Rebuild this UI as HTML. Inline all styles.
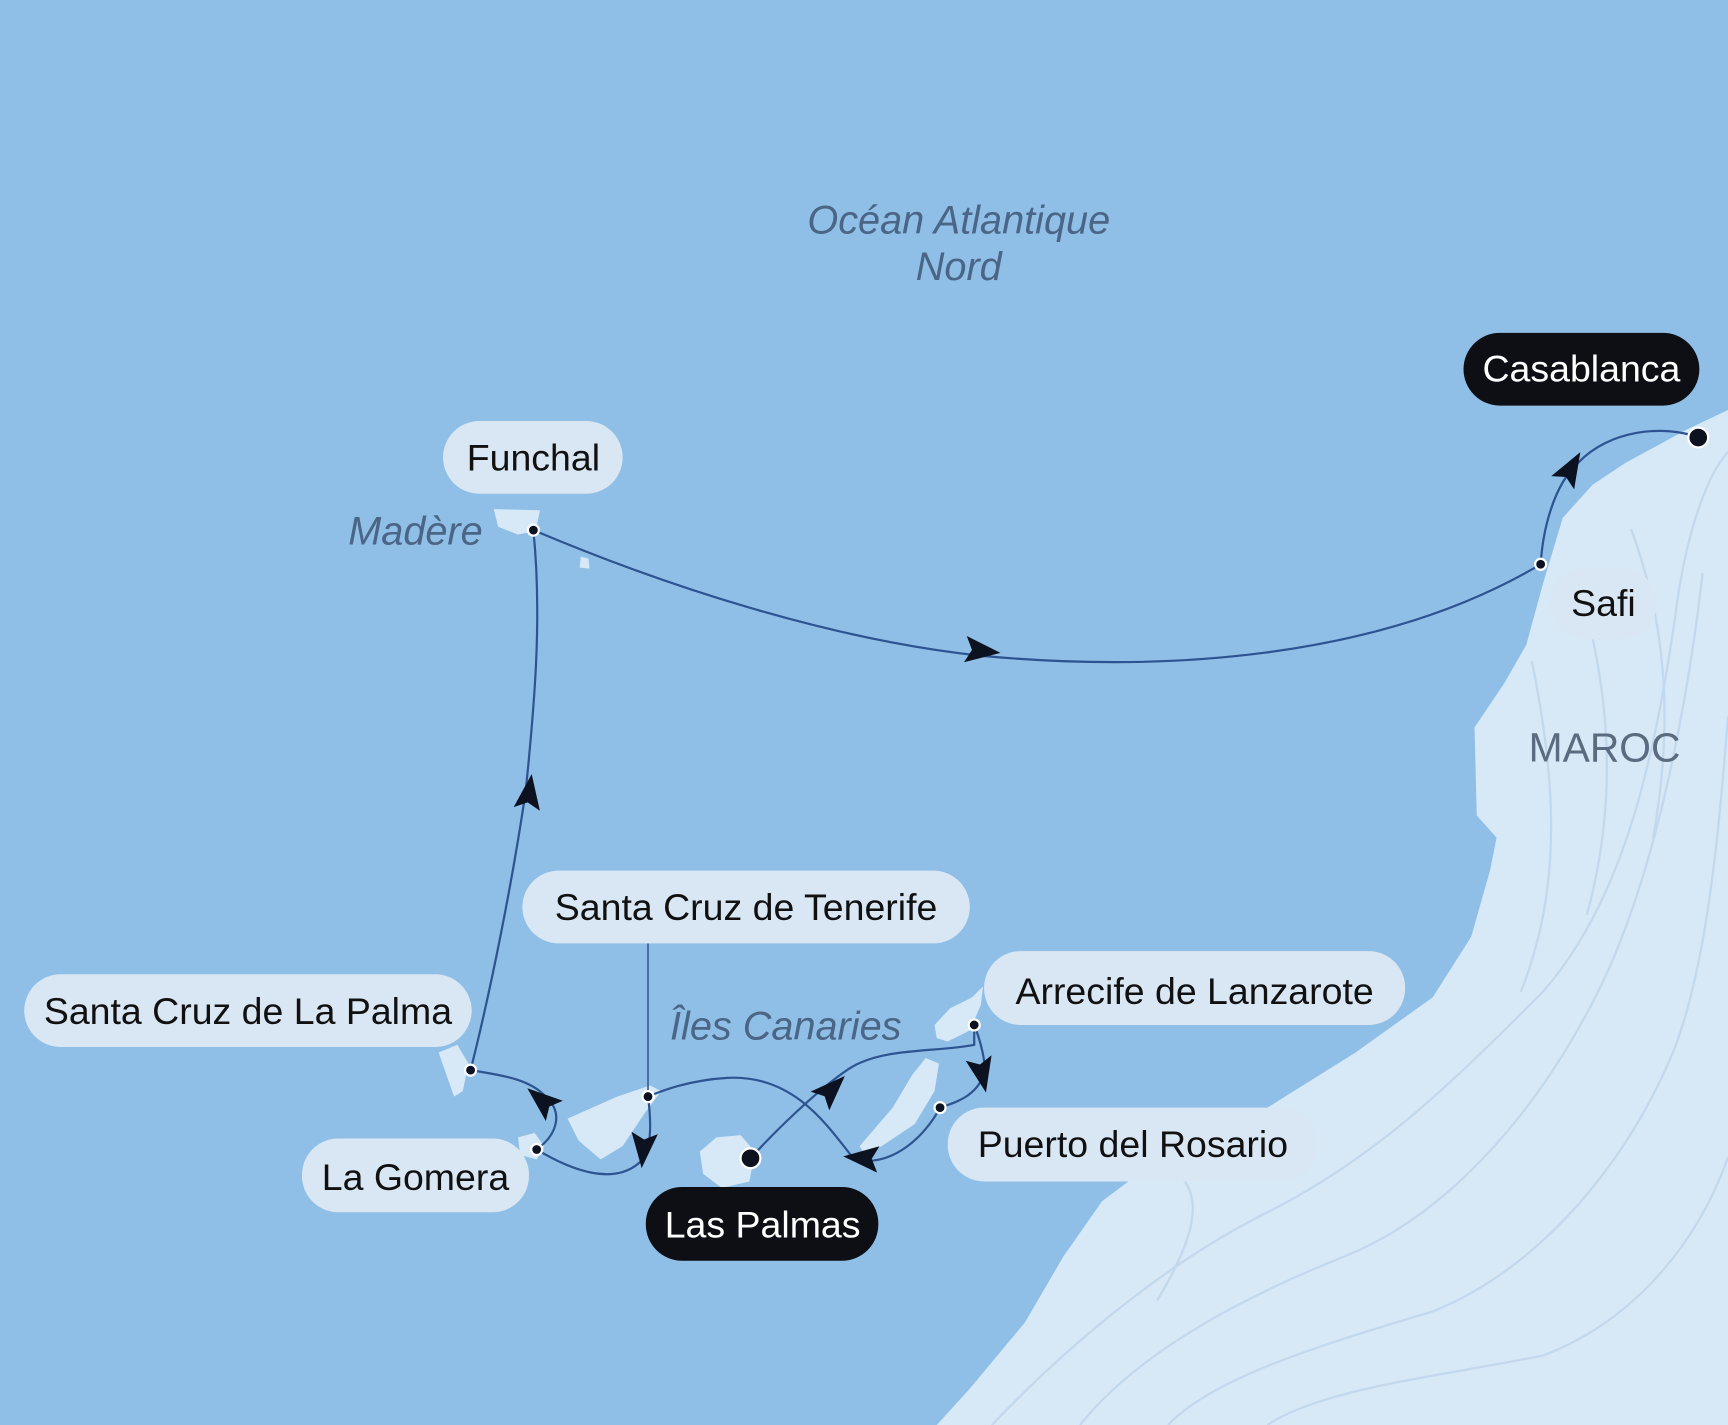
<!DOCTYPE html>
<html><head><meta charset="utf-8"><style>
html,body{margin:0;padding:0;background:#8fbfe6;}
svg{display:block}
.lbl{font-family:"Liberation Sans",sans-serif;font-size:34px;fill:#111}
.it{font-family:"Liberation Sans",sans-serif;font-style:italic;font-size:36px;fill:#4a6585}
</style></head><body>
<svg width="1728" height="1425" viewBox="0 0 1568 1293" preserveAspectRatio="none" xmlns="http://www.w3.org/2000/svg">
<rect width="1568" height="1293" fill="#8fbfe6"/>
<path d="M850,1293 L880,1260 L930,1200 L965,1140 L1000,1090 L1060,1045 L1150,1005 L1230,955 L1300,905 L1335,850 L1352,790 L1358,760 L1340,740 L1338,660 L1365,620 L1385,585 L1400,530 L1418,470 L1445,440 L1475,420 L1530,390 L1568,372 L1568,1293 Z" fill="#d7e8f6"/>
<g fill="none" stroke="#c2d8ec" stroke-width="2">
<path d="M900,1293 C960,1230 1050,1150 1150,1100 C1250,1050 1320,980 1400,900 C1470,820 1500,700 1520,560 C1530,480 1550,430 1568,410"/>
<path d="M980,1293 C1030,1230 1120,1180 1220,1140 C1320,1100 1400,1000 1450,900 C1500,800 1530,650 1545,520"/>
<path d="M1060,1293 C1100,1250 1200,1220 1300,1190 C1400,1150 1480,1050 1520,950 C1550,870 1560,750 1568,650"/>
<path d="M1150,1293 C1200,1260 1300,1250 1400,1230 C1480,1200 1540,1130 1568,1050"/>
<path d="M1050,1180 C1080,1130 1100,1080 1060,1060"/>
<path d="M1390,600 C1410,700 1420,800 1380,900"/>
<path d="M1430,520 C1460,620 1470,720 1440,830"/>
<path d="M1480,480 C1510,560 1520,650 1500,760"/>
</g>
<g fill="#d7e8f6">
<path d="M448,462 L490,463 L486,482 L470,485 L452,478 Z"/>
<path d="M527,505 L534,507 L535,516 L526,515 Z"/>
<path d="M398,955 L415,948 L425,965 L420,990 L412,995 L405,975 Z"/>
<path d="M470,1032 L485,1028 L494,1040 L487,1052 L472,1048 Z"/>
<path d="M515,1015 L560,995 L590,985 L600,990 L585,1010 L565,1040 L545,1052 L525,1035 Z"/>
<path d="M635,1045 L650,1032 L672,1030 L685,1045 L680,1072 L655,1078 L638,1065 Z"/>
<path d="M780,1040 L810,1005 L828,975 L840,960 L852,965 L848,990 L830,1020 L800,1040 L785,1048 Z"/>
<path d="M848,930 L862,915 L882,905 L892,895 L890,912 L880,935 L860,945 L850,942 Z"/>
</g>
<line x1="588" y1="856" x2="588" y2="995" stroke="#3a5f94" stroke-width="1.5"/>
<g fill="none" stroke="#2d5490" stroke-width="2">
<path d="M681,1051 C700,1030 740,990 770,970 C800,950 850,955 884,948 L884,930"/>
<path d="M884,930 C890,945 895,965 893,975 C885,995 868,1000 853,1005"/>
<path d="M853,1005 C840,1030 810,1060 775,1052 C750,1020 720,975 660,978 C625,980 600,990 588,995"/>
<path d="M588,995 C590,1010 592,1035 585,1050 C560,1080 515,1060 487,1043"/>
<path d="M487,1043 C505,1030 512,1010 495,995 C480,978 450,975 427,971"/>
<path d="M427,971 C445,900 465,800 477,718 C485,640 492,560 484,481"/>
<path d="M484,481 C600,530 750,580 890,595 C1050,610 1250,600 1398,512"/>
<path d="M1398,512 C1400,480 1410,440 1432,420 C1460,390 1510,385 1541,397"/>
</g>
<g fill="#0d1220">
<polygon points="0,-12 32,0 0,12 6,0" transform="translate(876,589) rotate(6)"/>
<polygon points="0,-12 32,0 0,12 6,0" transform="translate(478,734) rotate(-82)"/>
<polygon points="0,-12 32,0 0,12 6,0" transform="translate(503,1008) rotate(-140)"/>
<polygon points="0,-12 32,0 0,12 6,0" transform="translate(585,1028) rotate(95)"/>
<polygon points="0,-12 32,0 0,12 6,0" transform="translate(797,1052) rotate(185)"/>
<polygon points="0,-12 32,0 0,12 6,0" transform="translate(888,960) rotate(78)"/>
<polygon points="0,-12 32,0 0,12 6,0" transform="translate(744,999) rotate(-45)"/>
<polygon points="0,-12 32,0 0,12 6,0" transform="translate(1418,438) rotate(-60)"/>
</g>
<g fill="#0d1220" stroke="#fff" stroke-width="2">
<circle cx="484" cy="481" r="5"/><circle cx="1398" cy="512" r="5"/>
<circle cx="427" cy="971" r="5"/><circle cx="487" cy="1043" r="5"/>
<circle cx="588" cy="995" r="5"/><circle cx="884" cy="930" r="5"/>
<circle cx="853" cy="1005" r="5"/>
<circle cx="681" cy="1051" r="9"/><circle cx="1541" cy="397" r="9"/>
</g>
<g fill="#d9e7f4">
<rect x="402" y="382" width="163" height="66" rx="33"/>
<rect x="1407" y="515" width="96" height="65" rx="32"/>
<rect x="474" y="790" width="406" height="66" rx="33"/>
<rect x="22" y="884" width="406" height="66" rx="33"/>
<rect x="893" y="863" width="382" height="67" rx="33"/>
<rect x="860" y="1005" width="335" height="67" rx="33"/>
<rect x="274" y="1033" width="206" height="67" rx="33"/>
</g>
<g fill="#0d0f15">
<rect x="1328" y="302" width="214" height="66" rx="33"/>
<rect x="586" y="1077" width="211" height="67" rx="33"/>
</g>
<g class="lbl" text-anchor="middle">
<text x="484" y="427">Funchal</text>
<text x="1455" y="559">Safi</text>
<text x="677" y="835">Santa Cruz de Tenerife</text>
<text x="225" y="929">Santa Cruz de La Palma</text>
<text x="1084" y="911">Arrecife de Lanzarote</text>
<text x="1028" y="1050">Puerto del Rosario</text>
<text x="377" y="1080">La Gomera</text>
<text x="1435" y="346" style="fill:#fff">Casablanca</text>
<text x="692" y="1123" style="fill:#fff">Las Palmas</text>
</g>
<g class="it" text-anchor="middle">
<text x="870" y="212">Océan Atlantique</text>
<text x="870" y="254">Nord</text>
<text x="377" y="494">Madère</text>
<text x="713" y="943">Îles Canaries</text>
</g>
<text x="1456" y="691" text-anchor="middle" style="font-family:'Liberation Sans',sans-serif;font-size:37px;fill:#5b6b80">MAROC</text>
</svg>
</body></html>
